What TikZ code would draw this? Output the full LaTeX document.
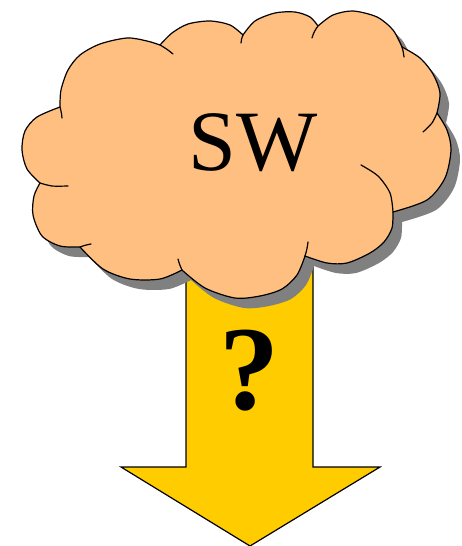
\documentclass[tikz,border=0pt]{standalone}
\usepackage{fontspec}
\setmainfont{Liberation Serif}
\definecolor{cloudfill}{HTML}{FFBF80}
\definecolor{arrowfill}{HTML}{FFCC00}
\definecolor{shadowgray}{HTML}{808080}
\def\cloudoutline{(60,107)
  -- plot[smooth] coordinates {(60,107) (61,90) (68,70) (80,55) (100,44) (127,38) (147,41) (160,45)}
  -- plot[smooth] coordinates {(160,45) (172,33) (188,24) (210,21) (230,25) (243,35)}
  -- plot[smooth] coordinates {(243,35) (255,21) (275,13) (295,12) (310,17) (318,26)}
  -- plot[smooth] coordinates {(318,26) (333,15) (353,11) (377,17) (393,30) (402,47)}
  -- plot[smooth] coordinates {(402,47) (420,58) (433,74) (440,93) (437,113)}
  -- plot[smooth] coordinates {(437,113) (447,130) (451,150) (445,178) (427,200) (393,212)}
  -- plot[smooth] coordinates {(393,212) (392,228) (384,242) (370,253) (347,263) (327,263) (305,256)}
  -- plot[smooth] coordinates {(305,256) (297,275) (282,289) (260,296) (235,298) (205,288) (182,270)}
  -- plot[smooth] coordinates {(182,270) (160,279) (130,279) (103,269) (80,247)}
  -- plot[smooth] coordinates {(80,247) (60,246) (42,236) (33,215) (34,196) (40,183)}
  -- plot[smooth] coordinates {(40,183) (27,169) (22,150) (25,131) (37,117) (60,107)}
  -- cycle}
\begin{document}
\begin{tikzpicture}[x=1pt,y=-1pt,line join=round,
  outline/.style={draw=black,line width=1.2pt},
  curl/.style={draw=black,line width=1.2pt,line cap=round},
  label/.style={inner sep=0pt,text=black}]
\useasboundingbox (0,0) rectangle (461,546);
% arrow
\draw[outline,fill=arrowfill,line join=miter] (186,260) -- (186,467) -- (121,467) -- (250,546) -- (380,467) -- (313,467) -- (313,260) -- cycle;
% cloud shadow
\fill[shadowgray,shift={(9,10)}] \cloudoutline;
% cloud
\draw[outline,fill=cloudfill] \cloudoutline;
% inner curls
\draw[curl] (60,107) to[bend left=5] (62,118);
\draw[curl] (160,45) to[bend left=5] (173,54);
\draw[curl] (243,35) to[bend right=10] (241,43);
\draw[curl] (318,26) to[bend right=10] (312,38);
\draw[curl] (402,47) to[bend left=5] (404,57);
\draw[curl] plot[smooth] coordinates {(437,113) (432,123) (423,132)};
\draw[curl] plot[smooth] coordinates {(393,212) (390,193) (378,176) (361,165)};
\draw[curl] (305,256) to[bend right=5] (308,242);
\draw[curl] (182,270) to[bend left=5] (178,259);
\draw[curl] (80,247) to[bend left=5] (91,244);
\draw[curl] plot[smooth] coordinates {(40,183) (52,186) (68,186)};
% texts
\node[label,font=\fontsize{86}{86}\selectfont] (sw) at (253,143) {SW};
\node[label,font=\fontsize{120}{120}\selectfont\bfseries] (q) at (249,371) {?};
\end{tikzpicture}
\end{document}
